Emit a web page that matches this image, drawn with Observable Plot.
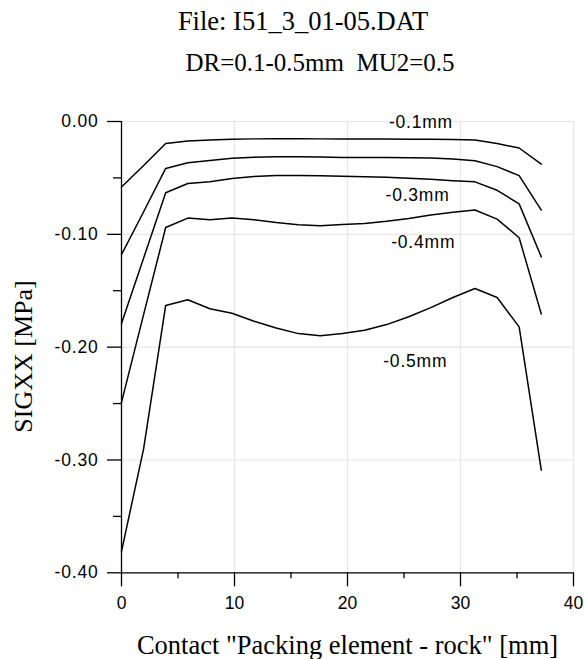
<!DOCTYPE html>
<html>
<head>
<meta charset="utf-8">
<script src="https://cdn.jsdelivr.net/npm/d3@7"></script>
<script src="https://cdn.jsdelivr.net/npm/@observablehq/plot@0.6"></script>
<style>
  html, body { margin: 0; padding: 0; background: #fff; }
  #chart svg { display: block; }
</style>
</head>
<body>
<div id="chart"></div>
<script>
// Contact position [mm]
const xs = [0, 1.96, 3.91, 5.87, 7.82, 9.78, 11.73, 13.69, 15.64, 17.60, 19.55, 21.51, 23.46, 25.42, 27.37, 29.33, 31.28, 33.24, 35.19, 37.15];
// SIGXX [MPa] per radial displacement DR
const s01 = [-0.058, -0.039, -0.0195, -0.0172, -0.0163, -0.0157, -0.0154, -0.0153, -0.0153, -0.0154, -0.0154, -0.0155, -0.0156, -0.0157, -0.0158, -0.016, -0.0165, -0.0195, -0.0235, -0.0378];
const s02 = [-0.118, -0.080, -0.0416, -0.0365, -0.0345, -0.0325, -0.0316, -0.0312, -0.0313, -0.0315, -0.0318, -0.0319, -0.032, -0.0321, -0.0323, -0.0332, -0.0348, -0.040, -0.048, -0.0785];
const s03 = [-0.179, -0.121, -0.0632, -0.055, -0.0534, -0.0505, -0.0487, -0.0478, -0.0478, -0.048, -0.0486, -0.049, -0.0495, -0.0502, -0.0512, -0.0525, -0.0535, -0.061, -0.073, -0.120];
const s04 = [-0.249, -0.171, -0.094, -0.0856, -0.087, -0.0856, -0.087, -0.0895, -0.0915, -0.0924, -0.0912, -0.0905, -0.0885, -0.086, -0.0828, -0.0805, -0.0785, -0.0865, -0.103, -0.1706];
const s05 = [-0.381, -0.290, -0.163, -0.158, -0.166, -0.170, -0.177, -0.183, -0.188, -0.190, -0.188, -0.185, -0.180, -0.173, -0.165, -0.156, -0.148, -0.156, -0.182, -0.309];
const seriesNames = ["-0.1mm", "-0.2mm", "-0.3mm", "-0.4mm", "-0.5mm"];

// curve labels (only four are labelled in the original)
const labelText = ["-0.1mm", "-0.3mm", "-0.4mm", "-0.5mm"];
const labelX = [26.5, 26.2, 26.7, 26.0];
const labelY = [-0.0012, -0.0652, -0.107, -0.2126];

const xTicks = [0, 10, 20, 30, 40];
const xMinor = [5, 15, 25, 35];
const yTicks = [0, -0.1, -0.2, -0.3, -0.4];
const yMinor = [-0.05, -0.15, -0.25, -0.35];

const title = "File: I51_3_01-05.DAT";
const subtitle = "DR=0.1-0.5mm\u00A0 MU2=0.5";
const xLabel = 'Contact "Packing element - rock" [mm]';
const yLabel = "SIGXX [MPa]";

const allSeries = [s01, s02, s03, s04, s05];
const rows = [];
allSeries.forEach((s, k) => s.forEach((v, i) => rows.push({x: xs[i], y: v, series: seriesNames[k]})));
const labels = labelText.map((t, i) => ({t, x: labelX[i], y: labelY[i]}));

const sans = "Liberation Sans, Arial, Helvetica, sans-serif";
const serif = "Liberation Serif, Times New Roman, serif";

const chart = Plot.plot({
  width: 584,
  height: 659,
  marginLeft: 121,
  marginRight: 11,
  marginTop: 121,
  marginBottom: 86.7,
  style: {fontFamily: sans, fontSize: "17px", color: "#000", background: "#fff"},
  x: {domain: [0, 40]},
  y: {domain: [-0.4, 0]},
  marks: [
    Plot.ruleX(xTicks.slice(1), {stroke: "#e6e6e6", strokeWidth: 1.2}),
    Plot.ruleY(yTicks.slice(0, 4), {stroke: "#e6e6e6", strokeWidth: 1.2}),
    Plot.axisX(xTicks, {tickSize: 14, tickPadding: 10, tickFormat: d => String(d), label: null, strokeWidth: 1.3, fontSize: 17.5, className: "xt"}),
    Plot.axisX(xMinor, {tickSize: 6, tickFormat: () => "", label: null, strokeWidth: 1.3}),
    Plot.axisY(yTicks, {tickSize: 14, tickPadding: 9, tickFormat: d => d.toFixed(2), label: null, strokeWidth: 1.3, fontSize: 17.5, className: "yt"}),
    Plot.axisY(yMinor, {tickSize: 8, tickFormat: () => "", label: null, strokeWidth: 1.3}),
    Plot.ruleX([0], {y1: -0.4, y2: 0, stroke: "#000", strokeWidth: 1.3}),
    Plot.ruleY([-0.4], {x1: 0, x2: 40, stroke: "#000", strokeWidth: 1.3}),
    Plot.line(rows, {x: "x", y: "y", z: "series", stroke: "#000", strokeWidth: 1.5}),
    Plot.text(labels, {x: "x", y: "y", text: "t", fontSize: 17.5, fill: "#000", textAnchor: "middle", lineAnchor: "middle", className: "cl"}),
    Plot.text([title], {text: d => d, frameAnchor: "top-left", dx: 181.5, dy: -91.7, fontFamily: serif, fontSize: 26.5, textAnchor: "middle", lineAnchor: "bottom", fill: "#000"}),
    Plot.text([subtitle], {text: d => d, frameAnchor: "top-left", dx: 198.5, dy: -51, fontFamily: serif, fontSize: 25, textAnchor: "middle", lineAnchor: "bottom", fill: "#000"}),
    Plot.text([xLabel], {text: d => d, frameAnchor: "bottom", dy: 81, fontFamily: serif, fontSize: 26.5, textAnchor: "middle", lineAnchor: "bottom", fill: "#000"}),
    Plot.text([yLabel], {text: d => d, frameAnchor: "left", dx: -89.5, dy: 9.3, rotate: -90, fontFamily: serif, fontSize: 26, textAnchor: "middle", lineAnchor: "bottom", fill: "#000"})
  ]
});
// slightly wider letter spacing to match the original sans-serif rendering
d3.select(chart).selectAll(".yt text, .cl text").style("letter-spacing", "0.8px");
document.getElementById("chart").appendChild(chart);
</script>
</body>
</html>
